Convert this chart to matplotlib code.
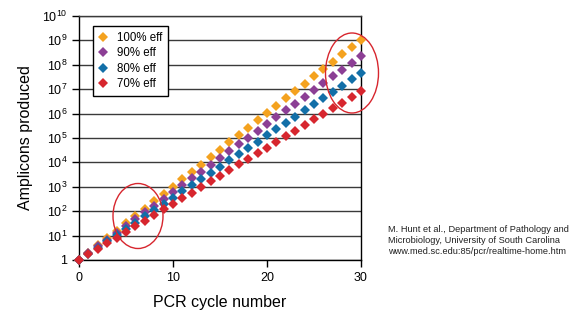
import matplotlib
matplotlib.use("Agg")
import matplotlib.pyplot as plt
from matplotlib.patches import Ellipse

plt.rcParams["font.family"] = ["Liberation Sans", "DejaVu Sans"]
plt.rcParams["mathtext.fontset"] = "custom"
plt.rcParams["mathtext.rm"] = "Liberation Sans"
plt.rcParams["mathtext.it"] = "Liberation Sans"

# PCR cycle number
cycles = list(range(31))

# amplicon counts (copies per starting template)
eff_100 = [1, 2, 4, 8, 16, 32, 64, 128, 256, 512,
           1.02e3, 2.05e3, 4.10e3, 8.19e3, 1.64e4, 3.28e4, 6.55e4, 1.31e5, 2.62e5, 5.24e5,
           1.05e6, 2.10e6, 4.19e6, 8.39e6, 1.68e7, 3.36e7, 6.71e7, 1.34e8, 2.68e8, 5.37e8,
           1.07e9]
eff_90 = [1, 1.9, 3.61, 6.86, 13.0, 24.8, 47.0, 89.4, 170, 323,
          613, 1.16e3, 2.21e3, 4.21e3, 7.99e3, 1.52e4, 2.88e4, 5.48e4, 1.04e5, 1.98e5,
          3.76e5, 7.14e5, 1.36e6, 2.58e6, 4.90e6, 9.31e6, 1.77e7, 3.36e7, 6.38e7, 1.21e8,
          2.30e8]
eff_80 = [1, 1.8, 3.24, 5.83, 10.5, 18.9, 34.0, 61.2, 110, 198,
          357, 643, 1.16e3, 2.08e3, 3.75e3, 6.75e3, 1.21e4, 2.19e4, 3.93e4, 7.08e4,
          1.27e5, 2.29e5, 4.13e5, 7.43e5, 1.34e6, 2.41e6, 4.34e6, 7.80e6, 1.40e7, 2.53e7,
          4.55e7]
eff_70 = [1, 1.7, 2.89, 4.91, 8.35, 14.2, 24.1, 41.0, 69.8, 119,
          202, 343, 583, 990, 1.68e3, 2.86e3, 4.87e3, 8.27e3, 1.41e4, 2.39e4,
          4.06e4, 6.91e4, 1.17e5, 2.00e5, 3.39e5, 5.77e5, 9.81e5, 1.67e6, 2.84e6, 4.82e6,
          8.19e6]

series = [("100% eff", eff_100, "#f4a21f"),
          ("90% eff", eff_90, "#8c3f95"),
          ("80% eff", eff_80, "#126fa8"),
          ("70% eff", eff_70, "#d7262e")]

y_exps = list(range(11))
y_labels = ["1"] + [f"$10^{{{k}}}$" for k in y_exps[1:]]
x_ticks = [0, 10, 20, 30]

fig = plt.figure(figsize=(5.73, 3.11), dpi=100, facecolor="white")
ax = fig.add_axes([79 / 573, 51 / 311, 282 / 573, 244 / 311])

for name, vals, col in series:
    ax.plot(cycles, vals, linestyle="none", marker="D", markersize=5.2,
            color=col, markeredgewidth=0, label=name, zorder=3, clip_on=False)

ax.set_yscale("log")
ax.set_ylim(1, 1e10)
ax.set_xlim(0, 30)
ax.set_yticks([10 ** k for k in y_exps])
ax.set_yticklabels(y_labels)
ax.yaxis.set_minor_locator(matplotlib.ticker.NullLocator())
ax.set_xticks(x_ticks)
ax.tick_params(axis="both", direction="out", length=5, width=1, labelsize=9, colors="black")
ax.yaxis.grid(True, color="#3a3a3a", linewidth=1)
ax.set_axisbelow(True)
for s in ax.spines.values():
    s.set_color("black")
    s.set_linewidth(1)
ax.spines["top"].set_color("#3a3a3a")

ax.set_xlabel("PCR cycle number", fontsize=11.5, labelpad=8)
ax.set_ylabel("Amplicons produced", fontsize=11.5, labelpad=6)

leg = ax.legend(loc="upper left", bbox_to_anchor=(93 / 573, 1 - 26 / 311),
                bbox_transform=fig.transFigure, fontsize=8.3, frameon=True,
                fancybox=False, framealpha=1, edgecolor="black",
                handlelength=0.8, handletextpad=0.8, borderpad=0.5,
                borderaxespad=0, labelspacing=0.3, markerscale=0.95)
leg.get_frame().set_linewidth(1)

# circled regions
for cx, cy, w, h in [(138, 216, 50, 65), (352, 73, 53, 80)]:
    fig.patches.append(Ellipse((cx / 573, 1 - cy / 311), w / 573, h / 311,
                               transform=fig.transFigure, fill=False,
                               edgecolor="#d7262e", linewidth=1))

fig.text(388 / 573, 1 - 225 / 311,
         "M. Hunt et al., Department of Pathology and\n"
         "Microbiology, University of South Carolina\n"
         "www.med.sc.edu:85/pcr/realtime-home.htm",
         fontsize=6.7, va="top", ha="left", multialignment="left",
         linespacing=1.25, color="#222222")

fig.savefig("out.png", dpi=100, facecolor="white")
